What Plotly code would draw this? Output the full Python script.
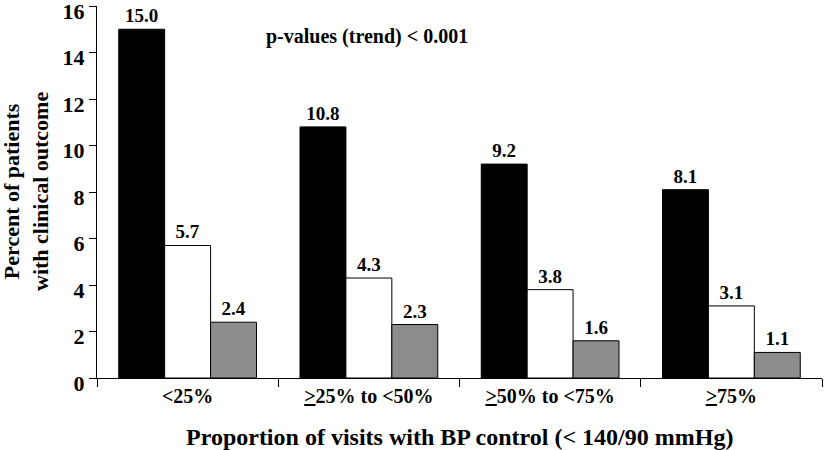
import plotly.graph_objects as go

categories = ["&lt;25%", "<u>></u>25% to &lt;50%", "<u>></u>50% to &lt;75%", "<u>></u>75%"]
series_a = [15.0, 10.8, 9.2, 8.1]
series_b = [5.7, 4.3, 3.8, 3.1]
series_c = [2.4, 2.3, 1.6, 1.1]
y_ticks = [0, 2, 4, 6, 8, 10, 12, 14, 16]

FONT = "Liberation Serif, Times New Roman, serif"

fig = go.Figure()
for vals, color in [(series_a, "#000000"), (series_b, "#ffffff"), (series_c, "#8c8c8c")]:
    fig.add_trace(go.Bar(
        x=categories, y=vals,
        marker=dict(color=color, line=dict(color="#000000", width=1)),
        text=[f"<b>{v:.1f}</b>" for v in vals],
        textposition="outside",
        textfont=dict(family=FONT, size=19, color="#000000"),
        cliponaxis=False,
        showlegend=False,
        hoverinfo="skip",
    ))

fig.update_layout(
    width=825, height=450,
    margin=dict(l=97, r=3, t=6, b=72, autoexpand=False),
    plot_bgcolor="white", paper_bgcolor="white",
    barmode="group", bargap=0.24, bargroupgap=0,
    font=dict(family=FONT, color="#000000"),
    annotations=[
        dict(x=0.372, y=14.7, xref="x domain", yref="y",
             text="<b>p-values (trend) &lt; 0.001</b>", showarrow=False,
             font=dict(family=FONT, size=20, color="#000000")),
        dict(x=0.5, y=0, xref="paper", yref="paper", yshift=-59,
             xanchor="center", yanchor="middle",
             text="<b>Proportion of visits with BP control (&lt; 140/90 mmHg)</b>",
             showarrow=False, font=dict(family=FONT, size=24, color="#000000")),
        dict(x=0, y=0.5, xref="paper", yref="paper", xshift=-71,
             xanchor="center", yanchor="middle", textangle=-90,
             text="<b>Percent of patients<br>with clinical outcome</b>",
             showarrow=False, font=dict(family=FONT, size=22, color="#000000")),
    ],
)
fig.update_xaxes(
    automargin=False,
    showline=True, linecolor="#000000", linewidth=1,
    ticks="outside", tickson="boundaries", ticklen=8, tickcolor="#000000",
    tickfont=dict(family=FONT, size=20, color="#000000", weight="bold"),
    showgrid=False,
)
fig.update_yaxes(
    automargin=False,
    range=[0, 16], tickvals=y_ticks,
    ticktext=[f"<b>{t}</b>" for t in y_ticks],
    ticklabeloverflow="allow", ticklabelshift=5,
    showline=True, linecolor="#000000", linewidth=1,
    ticks="outside", ticklen=7, tickcolor="#000000",
    tickfont=dict(family=FONT, size=22, color="#000000"),
    showgrid=False, zeroline=False,
)

fig.write_html("out.html", config={"displayModeBar": False},
               post_script="document.body.style.margin='0px';")
